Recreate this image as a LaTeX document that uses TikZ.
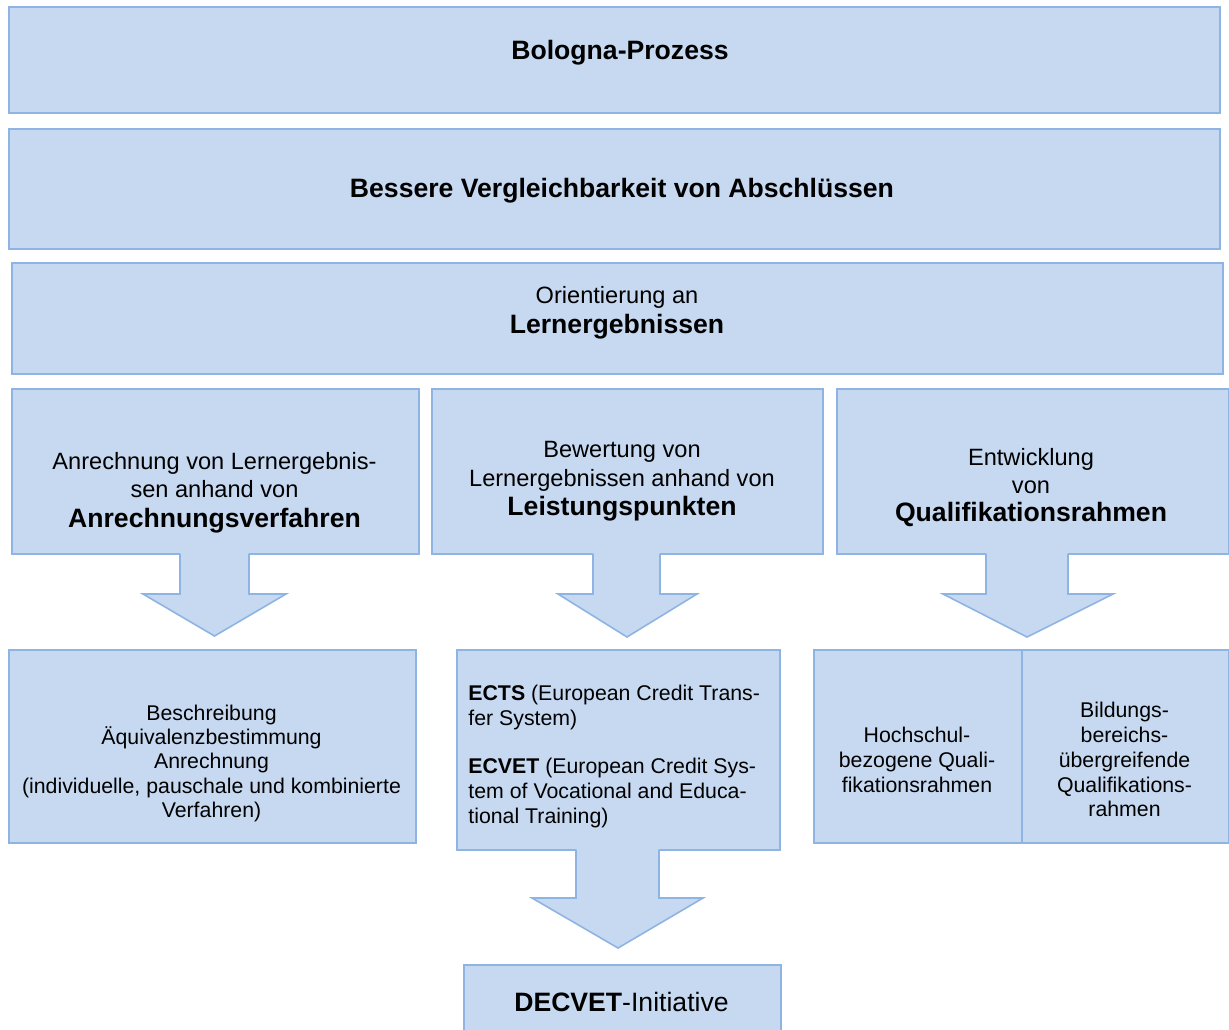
\documentclass[tikz,border=0pt]{standalone}
\usepackage{fontspec}
\setmainfont{Liberation Sans}
\definecolor{boxfill}{HTML}{C6D9F1}
\definecolor{boxline}{HTML}{8EB4E3}
\tikzset{
  box/.style={draw=boxline, fill=boxfill, line width=0.8pt, anchor=north west, inner sep=0pt},
  arrowshape/.style={fill=boxfill},
  arrowline/.style={draw=boxline, line width=0.8pt, line join=miter},
  reg/.style={font=\fontsize{11.8}{14}\selectfont, anchor=base, inner sep=0pt},
  bld/.style={font=\fontsize{13.3}{15}\selectfont\bfseries, anchor=base, inner sep=0pt},
  sml/.style={font=\fontsize{10.65}{12}\selectfont, anchor=base, inner sep=0pt},
  smlL/.style={font=\fontsize{10.65}{12}\selectfont, anchor=base west, inner sep=0pt},
}
\begin{document}
\begin{tikzpicture}[x=0.5pt,y=-0.5pt]
\clip (0,0) rectangle (1229,1029);
\fill[white] (0,0) rectangle (1229,1029);
% boxes
\node[box, minimum width=605.5pt, minimum height=53pt] (b1) at (8,6) {};
\node[box, minimum width=605.5pt, minimum height=60pt] (b2) at (8,128) {};
\node[box, minimum width=605.5pt, minimum height=55.5pt] (b3) at (11,262) {};
\node[box, minimum width=203.5pt, minimum height=82.5pt] (b4a) at (11,388) {};
\node[box, minimum width=195.5pt, minimum height=82.5pt] (b4b) at (431,388) {};
\node[box, minimum width=196pt, minimum height=82.5pt] (b4c) at (836,388) {};
\node[box, minimum width=203.5pt, minimum height=96.5pt] (b5a) at (8,649) {};
\node[box, minimum width=161.5pt, minimum height=100pt] (b5b) at (456,649) {};
\node[box, minimum width=104pt, minimum height=96.5pt] (b5c) at (813,649) {};
\node[box, minimum width=103.5pt, minimum height=96.5pt] (b5d) at (1021,649) {};
\node[box, minimum width=158.5pt, minimum height=38pt] (b6) at (463,964) {};
% block arrows
\fill[arrowshape] (180,550) -- (180,594) -- (143,594) -- (214.5,636) -- (286,594) -- (249,594) -- (249,550) -- cycle;
\draw[arrowline] (180,553.5) -- (180,594) -- (143,594) -- (214.5,636) -- (286,594) -- (249,594) -- (249,553.5);
\fill[arrowshape] (593,550) -- (593,594) -- (558,594) -- (627,637) -- (697,594) -- (660,594) -- (660,550) -- cycle;
\draw[arrowline] (593,553.5) -- (593,594) -- (558,594) -- (627,637) -- (697,594) -- (660,594) -- (660,553.5);
\fill[arrowshape] (986,550) -- (986,594) -- (943,594) -- (1027,637) -- (1113,594) -- (1068,594) -- (1068,550) -- cycle;
\draw[arrowline] (986,553.5) -- (986,594) -- (943,594) -- (1027,637) -- (1113,594) -- (1068,594) -- (1068,553.5);
\fill[arrowshape] (576,846) -- (576,898) -- (532,898) -- (618,948) -- (703,898) -- (659,898) -- (659,846) -- cycle;
\draw[arrowline] (576,849.5) -- (576,898) -- (532,898) -- (618,948) -- (703,898) -- (659,898) -- (659,849.5);
% texts
\node[bld] (t1) at (620,59) {Bologna-Prozess};
\node[bld] (t2) at (622,197) {Bessere Vergleichbarkeit von Abschlüssen};
\node[reg] (t3a) at (617,303) {Orientierung an};
\node[bld] (t3b) at (617,333) {Lernergebnissen};
\node[reg] (t4a1) at (214.5,469) {Anrechnung von Lernergebnis-};
\node[reg] (t4a2) at (214.5,497) {sen anhand von};
\node[bld] (t4a3) at (214.5,527) {Anrechnungsverfahren};
\node[reg] (t4b1) at (622,457) {Bewertung von};
\node[reg] (t4b2) at (622,486) {Lernergebnissen anhand von};
\node[bld] (t4b3) at (622,515) {Leistungspunkten};
\node[reg] (t4c1) at (1031,465) {Entwicklung};
\node[reg] (t4c2) at (1031,493) {von};
\node[bld] (t4c3) at (1031,521) {Qualifikationsrahmen};
\node[sml] (t5a1) at (211.5,720) {Beschreibung};
\node[sml] (t5a2) at (211.5,744) {Äquivalenzbestimmung};
\node[sml] (t5a3) at (211.5,768) {Anrechnung};
\node[sml] (t5a4) at (211.5,793) {(individuelle, pauschale und kombinierte};
\node[sml] (t5a5) at (211.5,817) {Verfahren)};
\node[smlL] (t5b1) at (468,700) {\textbf{ECTS} (European Credit Trans-};
\node[smlL] (t5b2) at (468,725) {fer System)};
\node[smlL] (t5b3) at (468,773) {\textbf{ECVET} (European Credit Sys-};
\node[smlL] (t5b4) at (468,798) {tem of Vocational and Educa-};
\node[smlL] (t5b5) at (468,823) {tional Training)};
\node[sml] (t5c1) at (917,742) {Hochschul-};
\node[sml] (t5c2) at (917,767) {bezogene Quali-};
\node[sml] (t5c3) at (917,792) {fikationsrahmen};
\node[sml] (t5d1) at (1124.5,717) {Bildungs-};
\node[sml] (t5d2) at (1124.5,742) {bereichs-};
\node[sml] (t5d3) at (1124.5,767) {übergreifende};
\node[sml] (t5d4) at (1124.5,792) {Qualifikations-};
\node[sml] (t5d5) at (1124.5,816) {rahmen};
\node[anchor=base, inner sep=0pt, font=\fontsize{13.3}{15}\selectfont] (t6) at (621.5,1011) {\textbf{DECVET}-Initiative};
\end{tikzpicture}
\end{document}
